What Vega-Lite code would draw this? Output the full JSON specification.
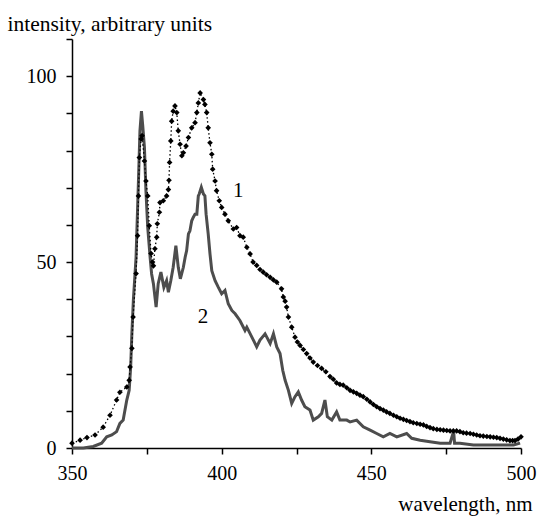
{
  "$schema": "https://vega.github.io/schema/vega-lite/v6.json",
  "width": 449,
  "height": 409,
  "autosize": "none",
  "padding": {"left": 72, "top": 39, "right": 16, "bottom": 68},
  "config": {"view": {"stroke": null}, "font": "Liberation Serif"},
  "datasets": {
    "s1": [
      {"nm": 350, "v": 1.3}, {"nm": 352.7, "v": 2.1}, {"nm": 355, "v": 2.8}, {"nm": 357.7, "v": 3.5}, {"nm": 360.4, "v": 5.6},
      {"nm": 362.7, "v": 8.8}, {"nm": 364.9, "v": 12.9}, {"nm": 366, "v": 15}, {"nm": 368.3, "v": 16.4},
      {"nm": 369.1, "v": 18.2}, {"nm": 369.4, "v": 21.8}, {"nm": 370, "v": 26.8}, {"nm": 370.4, "v": 35.2},
      {"nm": 371.4, "v": 46.9}, {"nm": 371.9, "v": 57.1}, {"nm": 372.2, "v": 67.8}, {"nm": 372.5, "v": 78.1},
      {"nm": 373.1, "v": 83.1}, {"nm": 373.4, "v": 84}, {"nm": 374.2, "v": 77.2}, {"nm": 374.7, "v": 71.8},
      {"nm": 375.3, "v": 67.8}, {"nm": 375.8, "v": 59.8}, {"nm": 376.4, "v": 52.3}, {"nm": 376.9, "v": 50},
      {"nm": 377.2, "v": 49}, {"nm": 377.7, "v": 53.6}, {"nm": 378.3, "v": 56.7}, {"nm": 378.5, "v": 60.3},
      {"nm": 379.2, "v": 63.4}, {"nm": 379.4, "v": 66}, {"nm": 380.5, "v": 66.5}, {"nm": 381.6, "v": 67.8},
      {"nm": 382.2, "v": 69.5}, {"nm": 382.4, "v": 72}, {"nm": 382.6, "v": 76.8}, {"nm": 383, "v": 82.6},
      {"nm": 383.3, "v": 87.9}, {"nm": 383.8, "v": 90.6}, {"nm": 384.4, "v": 92}, {"nm": 385, "v": 90.2},
      {"nm": 385.5, "v": 85.3}, {"nm": 386.1, "v": 81.7}, {"nm": 386.7, "v": 78.6}, {"nm": 387.2, "v": 79.4},
      {"nm": 388.1, "v": 81.2}, {"nm": 388.9, "v": 83.5}, {"nm": 390, "v": 86.1}, {"nm": 391.1, "v": 87.5},
      {"nm": 391.7, "v": 90.2}, {"nm": 392.2, "v": 92.8}, {"nm": 392.8, "v": 95.5}, {"nm": 393.9, "v": 93.7},
      {"nm": 394.4, "v": 92.4}, {"nm": 395, "v": 90.2}, {"nm": 395.5, "v": 86.1}, {"nm": 396.1, "v": 82.1},
      {"nm": 396.7, "v": 79}, {"nm": 397, "v": 75}, {"nm": 397.8, "v": 71.8}, {"nm": 398.3, "v": 69.2},
      {"nm": 399.2, "v": 66.5}, {"nm": 400, "v": 64.7}, {"nm": 401.1, "v": 62.9}, {"nm": 402.2, "v": 61.1},
      {"nm": 403.9, "v": 58.9}, {"nm": 405, "v": 59.3}, {"nm": 406.1, "v": 57.1}, {"nm": 407.2, "v": 56.7},
      {"nm": 408.4, "v": 54}, {"nm": 409.5, "v": 52.2}, {"nm": 410.5, "v": 50}, {"nm": 411.7, "v": 49.1},
      {"nm": 412.8, "v": 48}, {"nm": 413.9, "v": 47.3}, {"nm": 415, "v": 46.6}, {"nm": 416.2, "v": 45.9},
      {"nm": 417.3, "v": 45.2}, {"nm": 418.4, "v": 44.6}, {"nm": 420, "v": 42.8}, {"nm": 420.6, "v": 40.6},
      {"nm": 421.2, "v": 39.5}, {"nm": 421.7, "v": 37.9}, {"nm": 422.3, "v": 35.2}, {"nm": 423.4, "v": 32.5},
      {"nm": 424.5, "v": 29.8}, {"nm": 425.3, "v": 28.5}, {"nm": 426.2, "v": 27.6}, {"nm": 427.3, "v": 26.5},
      {"nm": 428.4, "v": 25.4}, {"nm": 429.5, "v": 24.2}, {"nm": 430.6, "v": 23.1}, {"nm": 432, "v": 22.2},
      {"nm": 433.4, "v": 21.4}, {"nm": 434.8, "v": 20.5}, {"nm": 436.2, "v": 19.2}, {"nm": 437.3, "v": 18.5},
      {"nm": 438.4, "v": 17.5}, {"nm": 439.5, "v": 17.1}, {"nm": 440.6, "v": 16.9}, {"nm": 441.8, "v": 16.2},
      {"nm": 442.9, "v": 15.5}, {"nm": 444, "v": 15.1}, {"nm": 445.1, "v": 14.7}, {"nm": 446.2, "v": 14.2},
      {"nm": 447.3, "v": 13.8}, {"nm": 448.5, "v": 13.1}, {"nm": 449.6, "v": 12.4}, {"nm": 450.7, "v": 11.7},
      {"nm": 451.8, "v": 11.1}, {"nm": 452.9, "v": 10.6}, {"nm": 454, "v": 10.2}, {"nm": 455.1, "v": 9.7},
      {"nm": 456.2, "v": 9.3}, {"nm": 457.4, "v": 8.8}, {"nm": 458.5, "v": 8.4}, {"nm": 459.6, "v": 8},
      {"nm": 460.7, "v": 7.7}, {"nm": 461.8, "v": 7.4}, {"nm": 462.9, "v": 7.1}, {"nm": 464, "v": 6.8},
      {"nm": 465.2, "v": 6.6}, {"nm": 466.3, "v": 6.4}, {"nm": 467.4, "v": 6.2}, {"nm": 468.5, "v": 5.8},
      {"nm": 469.6, "v": 5.5}, {"nm": 470.7, "v": 5.2}, {"nm": 471.9, "v": 5}, {"nm": 473, "v": 4.9},
      {"nm": 474.1, "v": 4.8}, {"nm": 475.2, "v": 4.7}, {"nm": 476.3, "v": 4.6}, {"nm": 477.4, "v": 4.6},
      {"nm": 478.5, "v": 4.6}, {"nm": 479.6, "v": 4.4}, {"nm": 480.7, "v": 4.1}, {"nm": 481.8, "v": 4},
      {"nm": 483, "v": 3.9}, {"nm": 484.1, "v": 3.7}, {"nm": 485.2, "v": 3.5}, {"nm": 486.3, "v": 3.3},
      {"nm": 487.4, "v": 3.2}, {"nm": 488.6, "v": 3.1}, {"nm": 489.7, "v": 3}, {"nm": 490.8, "v": 2.9},
      {"nm": 491.9, "v": 2.8}, {"nm": 493, "v": 2.6}, {"nm": 494.1, "v": 2.4}, {"nm": 495.2, "v": 2.2},
      {"nm": 496.3, "v": 2}, {"nm": 497.2, "v": 2}, {"nm": 498, "v": 2}, {"nm": 499, "v": 2.4}, {"nm": 500, "v": 3}
    ],
    "s2": [
      {"nm": 350, "v": 0}, {"nm": 353.8, "v": 0}, {"nm": 357.1, "v": 0.4}, {"nm": 359.9, "v": 1.3},
      {"nm": 361.6, "v": 3}, {"nm": 363.3, "v": 3.5}, {"nm": 364.9, "v": 4.4}, {"nm": 366, "v": 6.6},
      {"nm": 367.1, "v": 7.5}, {"nm": 368.3, "v": 12.9}, {"nm": 369.1, "v": 15.5}, {"nm": 369.6, "v": 21.8},
      {"nm": 370, "v": 30.7}, {"nm": 370.5, "v": 39.7}, {"nm": 371.4, "v": 51.3}, {"nm": 372.2, "v": 71.8},
      {"nm": 372.7, "v": 85.3}, {"nm": 373.2, "v": 90.6}, {"nm": 373.6, "v": 87}, {"nm": 374.2, "v": 80.8},
      {"nm": 374.7, "v": 69.2}, {"nm": 375.3, "v": 59.3}, {"nm": 376.1, "v": 51.3}, {"nm": 376.6, "v": 46.8},
      {"nm": 377.2, "v": 44.2}, {"nm": 378.1, "v": 37.9}, {"nm": 378.8, "v": 44.2}, {"nm": 379.7, "v": 47.3},
      {"nm": 380.7, "v": 43.2}, {"nm": 381.6, "v": 45}, {"nm": 382.2, "v": 41.9}, {"nm": 383, "v": 45},
      {"nm": 383.8, "v": 48.6}, {"nm": 384.7, "v": 54.4}, {"nm": 385.5, "v": 48.6}, {"nm": 386.2, "v": 45.5},
      {"nm": 387.2, "v": 48.6}, {"nm": 387.8, "v": 51.3}, {"nm": 388.3, "v": 53.1}, {"nm": 388.9, "v": 57.6},
      {"nm": 389.4, "v": 58.4}, {"nm": 390, "v": 61.1}, {"nm": 390.5, "v": 62}, {"nm": 391.1, "v": 62.9},
      {"nm": 391.7, "v": 62.9}, {"nm": 392.2, "v": 67.8}, {"nm": 392.5, "v": 68.3}, {"nm": 393.2, "v": 70.1},
      {"nm": 393.9, "v": 68.3}, {"nm": 394.4, "v": 67.8}, {"nm": 394.8, "v": 62.9}, {"nm": 395.5, "v": 57.6},
      {"nm": 396.1, "v": 52.2}, {"nm": 396.7, "v": 47.7}, {"nm": 397.8, "v": 45}, {"nm": 398.9, "v": 43.2},
      {"nm": 400, "v": 41.5}, {"nm": 401.1, "v": 42.4}, {"nm": 402.2, "v": 38.8}, {"nm": 403.4, "v": 37},
      {"nm": 404.5, "v": 36.1}, {"nm": 406.1, "v": 34.3}, {"nm": 407.8, "v": 31.6}, {"nm": 408.4, "v": 32.5},
      {"nm": 410.6, "v": 29}, {"nm": 411.7, "v": 27.2}, {"nm": 412.8, "v": 29}, {"nm": 414.5, "v": 30.7},
      {"nm": 416.2, "v": 28.1}, {"nm": 417.3, "v": 30.7}, {"nm": 418.4, "v": 27.2}, {"nm": 419.5, "v": 25.4},
      {"nm": 420.4, "v": 20.9}, {"nm": 421.2, "v": 18.2}, {"nm": 422.3, "v": 15.5}, {"nm": 423.4, "v": 12},
      {"nm": 424.5, "v": 13.8}, {"nm": 425.6, "v": 15.1}, {"nm": 426.7, "v": 12.9}, {"nm": 427.8, "v": 11.1},
      {"nm": 429.5, "v": 10.2}, {"nm": 430.6, "v": 7.5}, {"nm": 432.3, "v": 8.4}, {"nm": 433.4, "v": 9.3},
      {"nm": 434.5, "v": 12.9}, {"nm": 435.3, "v": 8.4}, {"nm": 436.8, "v": 7.5}, {"nm": 438.4, "v": 9.7},
      {"nm": 439.5, "v": 7.5}, {"nm": 441.8, "v": 7.5}, {"nm": 442.9, "v": 7}, {"nm": 445.1, "v": 7.5},
      {"nm": 447.3, "v": 5.7}, {"nm": 449.6, "v": 4.8}, {"nm": 451.8, "v": 3.9}, {"nm": 454, "v": 3},
      {"nm": 456.2, "v": 3.9}, {"nm": 458.5, "v": 3}, {"nm": 461.8, "v": 3.9}, {"nm": 463.5, "v": 2.6},
      {"nm": 466.3, "v": 2.1}, {"nm": 469.6, "v": 1.7}, {"nm": 473, "v": 1.3}, {"nm": 476.3, "v": 1.3},
      {"nm": 477.5, "v": 4.5}, {"nm": 477.8, "v": 1.3}, {"nm": 479.6, "v": 1.3}, {"nm": 484.1, "v": 0.8},
      {"nm": 488.6, "v": 0.8}, {"nm": 493, "v": 0.8}, {"nm": 497.5, "v": 0.8}, {"nm": 499.7, "v": 1.3}
    ],
    "labels": [
      {"nm": 405.5, "v": 69.2, "t": "1"},
      {"nm": 393.8, "v": 35.1, "t": "2"}
    ]
  },
  "encoding": {
    "x": {
      "field": "nm", "type": "quantitative",
      "scale": {"domain": [350, 500], "nice": false, "zero": false},
      "axis": {
        "values": [350, 375, 400, 425, 450, 475, 500],
        "labelExpr": "datum.value % 50 == 0 ? datum.label : ''",
        "grid": false, "tickSize": 6, "tickWidth": 1.5, "tickColor": "black",
        "domainColor": "black", "domainWidth": 1.5,
        "labelFont": "Liberation Serif", "labelFontSize": 20, "labelColor": "black", "labelPadding": 9, "labelFlush": false,
        "title": "wavelength, nm", "titleFont": "Liberation Serif", "titleFontSize": 21, "titleFontWeight": "normal", "titleColor": "black",
        "titleAlign": "right", "titleAnchor": null, "titleX": 460, "titleY": 62, "titleBaseline": "alphabetic"
      }
    },
    "y": {
      "field": "v", "type": "quantitative",
      "scale": {"domain": [0, 110], "nice": false},
      "axis": {
        "values": [0, 10, 20, 30, 40, 50, 60, 70, 80, 90, 100, 110],
        "labelExpr": "datum.value % 50 == 0 ? datum.label : ''",
        "grid": false, "tickSize": 6, "tickWidth": 1.5, "tickColor": "black",
        "domainColor": "black", "domainWidth": 1.5,
        "labelFont": "Liberation Serif", "labelFontSize": 20, "labelColor": "black", "labelPadding": 10,
        "title": "intensity, arbitrary units", "titleFont": "Liberation Serif", "titleFontSize": 21.5, "titleFontWeight": "normal", "titleColor": "black",
        "titleAngle": 0, "titleAlign": "left", "titleAnchor": null, "titleX": -65, "titleY": -9, "titleBaseline": "alphabetic"
      }
    }
  },
  "layer": [
    {"data": {"name": "s2"}, "mark": {"type": "line", "color": "#4d4d4d", "strokeWidth": 3}},
    {"data": {"name": "s1"}, "mark": {"type": "line", "color": "black", "strokeWidth": 1.3, "strokeDash": [1.5, 2.5]}},
    {"data": {"name": "s1"}, "mark": {"type": "point", "shape": "diamond", "filled": true, "color": "black", "size": 32, "opacity": 1}},
    {"data": {"name": "labels"}, "mark": {"type": "text", "fontSize": 21, "font": "Liberation Serif", "color": "black"},
     "encoding": {"text": {"field": "t"}}}
  ]
}
